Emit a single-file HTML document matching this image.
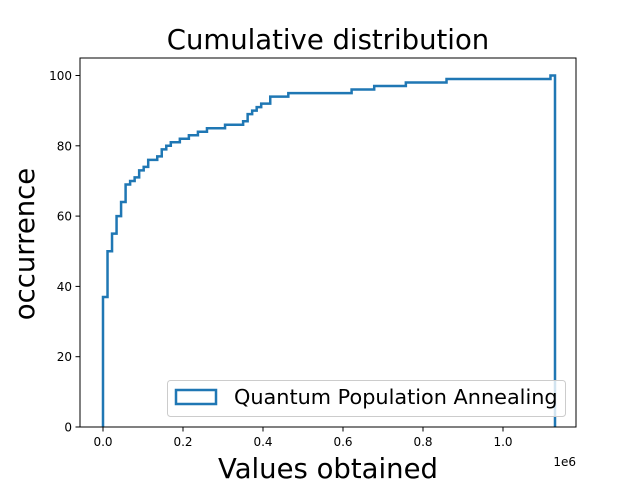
<!DOCTYPE html>
<html><head><meta charset="utf-8"><style>
body{margin:0;background:#fff}
svg{font-family:"DejaVu Sans","Liberation Sans",sans-serif}
</style></head><body>
<svg width="640" height="480" id="chart">
<rect x="0" y="0" width="640" height="480" fill="#fff"/>
<text x="328" y="49" font-size="27.5" text-anchor="middle">Cumulative distribution</text>
<g id="ticks"></g>
<path id="series" fill="none" stroke="#1f77b4" stroke-width="2.5" stroke-linejoin="miter"/>
<rect x="80" y="58" width="496" height="369" fill="none" stroke="#000" stroke-width="1"/>
<text x="328" y="478" font-size="27.5" text-anchor="middle">Values obtained</text>
<text x="0" y="0" font-size="27.5" text-anchor="middle" transform="translate(34,244) rotate(-90)">occurrence</text>
<text x="576" y="466" font-size="12" text-anchor="end">1e6</text>
<g>
<rect x="167.5" y="380.5" width="398" height="36" rx="3" fill="#fff" fill-opacity="0.8" stroke="#ccc"/>
<rect x="176" y="390" width="40" height="14" fill="none" stroke="#1f77b4" stroke-width="2.5"/>
<text x="234" y="404" font-size="20.8">Quantum Population Annealing</text>
</g>
</svg>
<script>
const binMin = 0, binMax = 1.13e6, nBins = 100;
const stepBins = [0,1,2,3,4,5,6,7,8,9,10,12,13,14,15,17,19,21,23,27,31,32,33,34,35,37,41,55,60,67,76,99];
const cumValues = [37,50,55,60,64,69,70,71,73,74,76,77,79,80,81,82,83,84,85,86,87,89,90,91,92,94,95,96,97,98,99,100];
const xTicks = [0,0.2e6,0.4e6,0.6e6,0.8e6,1.0e6];
const xTickLabels = ["0.0","0.2","0.4","0.6","0.8","1.0"];
const yTicks = [0,20,40,60,80,100];

const X = v => 103 + v / 1e6 * 400;
const Y = v => 427 - v * 3.515;
const edge = i => binMin + (binMax - binMin) * i / nBins;

let d = `M${X(edge(0))},${Y(0)}`;
for (let i = 0; i < stepBins.length; i++) {
  const x0 = X(edge(stepBins[i]));
  const x1 = X(edge(i + 1 < stepBins.length ? stepBins[i + 1] : nBins));
  d += ` L${x0},${Y(cumValues[i])} L${x1},${Y(cumValues[i])}`;
}
d += ` L${X(edge(nBins))},${Y(0)}`;
document.getElementById('series').setAttribute('d', d);

const ns = 'http://www.w3.org/2000/svg';
const g = document.getElementById('ticks');
xTicks.forEach((t, i) => {
  const l = document.createElementNS(ns, 'line');
  l.setAttribute('x1', X(t)); l.setAttribute('x2', X(t));
  l.setAttribute('y1', 427); l.setAttribute('y2', 431.5);
  l.setAttribute('stroke', '#000');
  
  
  g.appendChild(l);
  const tx = document.createElementNS(ns, 'text');
  tx.setAttribute('x', X(t)); tx.setAttribute('y', 446);
  tx.setAttribute('font-size', '12'); tx.setAttribute('text-anchor', 'middle');
  tx.textContent = xTickLabels[i];
  
  
  g.appendChild(tx);
});
yTicks.forEach(t => {
  const l = document.createElementNS(ns, 'line');
  l.setAttribute('x1', 75.5); l.setAttribute('x2', 80);
  l.setAttribute('y1', Y(t)); l.setAttribute('y2', Y(t));
  l.setAttribute('stroke', '#000');
  
  
  g.appendChild(l);
  const tx = document.createElementNS(ns, 'text');
  tx.setAttribute('x', 72); tx.setAttribute('y', Y(t) + 4.5);
  tx.setAttribute('font-size', '12'); tx.setAttribute('text-anchor', 'end');
  tx.textContent = t;
  
  
  g.appendChild(tx);
});
</script>
</body></html>
